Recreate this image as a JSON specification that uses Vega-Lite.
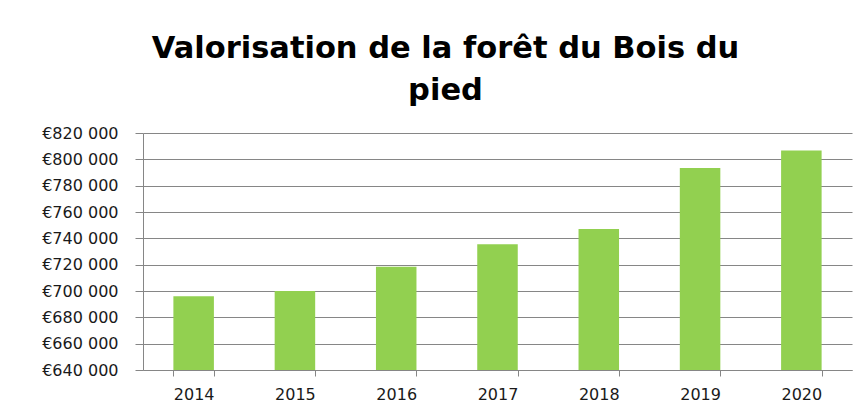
{
  "$schema": "https://vega.github.io/schema/vega-lite/v6.json",
  "autosize": "none",
  "width": 709,
  "height": 237,
  "padding": {"left": 143, "top": 133, "right": 14, "bottom": 40},
  "background": "white",
  "title": {
    "text": ["Valorisation de la forêt du Bois du", "pied"],
    "font": "DejaVu Sans",
    "fontSize": 30.5,
    "fontWeight": "bold",
    "color": "#000000",
    "lineHeight": 42,
    "anchor": "middle",
    "frame": "group",
    "dx": -52,
    "offset": 19
  },
  "data": {
    "values": [
      {"annee": "2014", "valeur": 696000},
      {"annee": "2015", "valeur": 700000},
      {"annee": "2016", "valeur": 718500},
      {"annee": "2017", "valeur": 735500},
      {"annee": "2018", "valeur": 747000},
      {"annee": "2019", "valeur": 793500},
      {"annee": "2020", "valeur": 806700}
    ]
  },
  "mark": {"type": "bar", "color": "#92D050", "clip": true},
  "encoding": {
    "x": {
      "field": "annee",
      "type": "ordinal",
      "scale": {"paddingInner": 0.6, "paddingOuter": 0.3},
      "axis": {
        "title": null,
        "labelAngle": 0,
        "labelFont": "DejaVu Sans",
        "labelFontSize": 16,
        "labelColor": "#1a1a1a",
        "labelPadding": 10,
        "tickBand": "extent",
        "tickColor": "#868686",
        "tickSize": 6,
        "domainColor": "#868686",
        "grid": false
      }
    },
    "y": {
      "field": "valeur",
      "type": "quantitative",
      "scale": {"domain": [640000, 820000], "zero": false, "nice": false},
      "axis": {
        "title": null,
        "values": [640000, 660000, 680000, 700000, 720000, 740000, 760000, 780000, 800000, 820000],
        "labelExpr": "'€' + replace(format(datum.value, ','), ',', ' ')",
        "labelFont": "DejaVu Sans",
        "labelFontSize": 16,
        "labelColor": "#1a1a1a",
        "labelPadding": 17,
        "tickColor": "#868686",
        "tickSize": 8,
        "domainColor": "#868686",
        "gridColor": "#868686",
        "gridOpacity": 1,
        "grid": true
      }
    }
  },
  "config": {
    "view": {"stroke": null}
  }
}
